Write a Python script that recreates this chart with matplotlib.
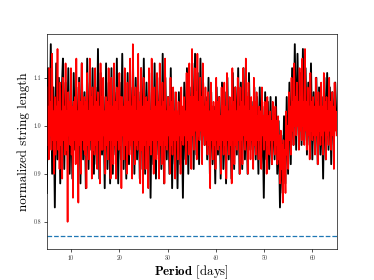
import numpy as np
import matplotlib
matplotlib.use("Agg")
import matplotlib.pyplot as plt

plt.rcParams['font.family'] = ['cmr10', 'DejaVu Serif']
plt.rcParams['mathtext.fontset'] = 'cm'
plt.rcParams['axes.formatter.use_mathtext'] = True

# period grid (days)
period_min, period_max = 5.0, 65.0

black_values = [
    0.86, 1.12, 0.95, 1.17, 0.90, 1.08, 0.83, 1.13, 0.93, 1.10, 0.88, 1.06,
    1.14, 0.91, 1.09, 0.94, 1.12, 0.90, 1.06, 0.89, 1.11, 0.95, 1.08, 0.92,
    1.10, 0.88, 1.13, 0.93, 1.07, 0.87, 1.14, 0.91, 1.09, 0.95, 1.12, 0.90,
    1.08, 0.92, 1.16, 0.89, 1.11, 0.94, 1.06, 0.87, 1.13, 0.91, 1.09, 0.88,
    1.12, 0.90, 1.07, 0.94, 1.14, 0.88, 1.09, 0.93, 1.15, 0.91, 1.06, 0.89,
    1.11, 0.92, 1.08, 0.95, 1.13, 0.90, 1.10, 0.93, 1.07, 0.89, 1.12, 0.91,
    1.14, 0.90, 1.09, 0.93, 1.11, 0.85, 1.07, 0.92, 1.13, 0.89, 1.10, 0.94,
    1.08, 0.91, 1.15, 0.88, 1.10, 0.93, 1.06, 0.90, 1.12, 0.87, 1.07, 0.92,
    1.05, 0.87, 1.07, 0.92, 1.04, 0.85, 1.09, 0.93, 1.12, 0.90, 1.08, 0.94,
    1.13, 0.91, 1.15, 0.94, 1.11, 0.92, 1.14, 0.97, 1.09, 0.96, 1.06, 0.93,
    1.10, 0.90, 1.07, 0.92, 1.04, 0.88, 1.08, 0.94, 1.06, 0.89, 1.09, 0.91,
    1.07, 0.88, 1.10, 0.93, 1.05, 0.89, 1.11, 0.91, 1.08, 0.94, 1.12, 0.90,
    1.09, 0.91, 1.12, 0.93, 1.07, 0.90, 1.11, 0.95, 1.05, 0.92, 1.08, 0.93,
    1.06, 0.90, 1.08, 0.92, 1.04, 0.85, 1.07, 0.93, 1.05, 0.91, 1.06, 0.92,
    1.04, 0.93, 1.06, 0.90, 1.01, 0.83, 0.98, 0.86, 1.02, 0.88, 1.06, 0.90,
    1.09, 0.92, 1.12, 0.96, 1.17, 0.95, 1.15, 0.98, 1.11, 0.96, 1.16, 0.97,
    1.12, 0.94, 1.09, 0.96, 1.13, 0.93, 1.07, 0.95, 1.10, 0.92, 1.08, 0.94,
    1.06, 0.89, 1.10, 0.93, 1.11, 0.95, 1.08, 0.92, 1.07, 0.96, 1.09, 1.00,
]

red_values = [
    1.08, 0.96, 1.04, 0.93, 1.12, 0.98, 1.05, 0.95, 1.15, 0.97, 1.03, 0.90,
    1.06, 0.94, 1.04, 0.97, 1.16, 0.95, 1.05, 0.91, 1.09, 0.96, 1.03, 0.89,
    1.10, 0.97, 1.04, 0.94, 1.13, 0.95, 1.03, 0.80, 1.07, 0.98, 1.05, 0.96,
    1.12, 0.94, 1.04, 0.85, 1.05, 0.97, 1.06, 0.92, 1.14, 0.96, 1.03, 0.84,
    1.09, 0.96, 1.05, 0.90, 1.13, 0.97, 1.04, 0.95, 1.06, 0.94, 1.05, 0.87,
    1.11, 0.96, 1.03, 0.93, 1.14, 0.97, 1.06, 0.89, 1.08, 0.95, 1.04, 0.94,
    1.12, 0.96, 1.05, 0.91, 1.07, 0.97, 1.04, 0.88, 1.13, 0.95, 1.06, 0.95,
    1.10, 0.98, 1.03, 0.90, 1.06, 0.96, 1.05, 0.93, 1.12, 0.97, 1.04, 0.89,
    1.10, 0.97, 1.04, 0.92, 1.13, 0.96, 1.05, 0.89, 1.08, 0.97, 1.03, 0.95,
    1.11, 0.96, 1.06, 0.87, 1.06, 0.98, 1.04, 0.93, 1.12, 0.96, 1.05, 0.90,
    1.09, 0.97, 1.05, 0.94, 1.14, 0.96, 1.04, 0.89, 1.17, 0.97, 1.06, 0.92,
    1.08, 0.96, 1.03, 0.95, 1.15, 0.97, 1.05, 0.88, 1.12, 0.95, 1.04, 0.86,
    1.10, 0.96, 1.04, 0.91, 1.06, 0.97, 1.05, 0.87, 1.12, 0.96, 1.03, 0.94,
    1.14, 0.97, 1.06, 0.90, 1.08, 0.95, 1.04, 0.93, 1.11, 0.97, 1.05, 0.89,
    1.13, 0.96, 1.04, 0.92, 1.09, 0.97, 1.05, 0.88, 1.14, 0.96, 1.03, 0.95,
    1.06, 0.98, 1.04, 0.90, 1.10, 0.96, 1.05, 0.94, 1.08, 0.97, 1.03, 0.89,
    1.07, 0.97, 1.03, 0.93, 1.05, 0.98, 1.02, 0.90, 1.08, 0.97, 1.04, 0.96,
    1.06, 0.98, 1.03, 0.92, 1.11, 0.97, 1.05, 0.94, 1.13, 0.96, 1.06, 0.91,
    1.16, 0.98, 1.06, 0.95, 1.12, 0.99, 1.07, 0.93, 1.15, 0.98, 1.05, 0.97,
    1.10, 0.99, 1.06, 0.92, 1.13, 0.98, 1.04, 0.96, 1.08, 0.97, 1.05, 0.94,
    1.07, 0.96, 1.03, 0.87, 1.09, 0.97, 1.04, 0.93, 1.05, 0.96, 1.03, 0.91,
    1.10, 0.97, 1.05, 0.95, 1.06, 0.96, 1.02, 0.90, 1.08, 0.97, 1.04, 0.94,
    1.09, 0.96, 1.04, 0.89, 1.11, 0.97, 1.03, 0.94, 1.06, 0.96, 1.04, 0.88,
    1.12, 0.97, 1.05, 0.92, 1.08, 0.96, 1.03, 0.95, 1.10, 0.97, 1.04, 0.90,
    1.08, 0.97, 1.05, 0.92, 1.12, 0.98, 1.04, 0.95, 1.14, 0.97, 1.06, 0.90,
    1.09, 0.96, 1.03, 0.93, 1.06, 0.97, 1.04, 0.91, 1.10, 0.96, 1.05, 0.94,
    1.07, 0.97, 1.02, 0.93, 1.04, 0.97, 1.03, 0.91, 1.08, 0.98, 1.02, 0.95,
    1.05, 0.97, 1.03, 0.90, 1.06, 0.96, 1.02, 0.94, 1.03, 0.97, 1.01, 0.92,
    1.05, 0.97, 1.02, 0.94, 1.04, 0.96, 1.01, 0.92, 1.02, 0.93, 0.98, 0.88,
    0.99, 0.91, 0.96, 0.84, 0.97, 0.90, 0.95, 0.86, 1.03, 0.94, 1.00, 0.91,
    1.07, 0.97, 1.04, 0.94, 1.10, 0.99, 1.05, 0.96, 1.13, 1.00, 1.06, 0.98,
    1.09, 1.00, 1.05, 0.95, 1.12, 0.99, 1.06, 0.97, 1.14, 1.00, 1.05, 0.96,
    1.16, 0.99, 1.05, 0.95, 1.08, 0.98, 1.04, 0.93, 1.11, 0.99, 1.05, 0.97,
    1.06, 0.98, 1.04, 0.94, 1.10, 0.98, 1.05, 0.92, 1.07, 0.99, 1.04, 0.96,
    1.09, 0.98, 1.04, 0.94, 1.11, 0.99, 1.05, 0.93, 1.06, 0.98, 1.03, 0.96,
    1.10, 0.99, 1.05, 0.95, 1.07, 0.98, 1.04, 0.91, 1.09, 0.99, 1.03, 0.98,
]

threshold = 0.77
xticks = [10, 20, 30, 40, 50, 60]
yticks = [0.8, 0.9, 1.0, 1.1]

periods_black = np.linspace(period_min, period_max, len(black_values))
periods_red = np.linspace(period_min, period_max, len(red_values))

fig = plt.figure(figsize=(3.74, 2.8), dpi=100)
ax = fig.add_axes([0.125, 0.11, 0.775, 0.77])

ax.plot(periods_black, black_values, color='black', lw=1.35)
ax.plot(periods_red, red_values, color='red', lw=1.2)
ax.axhline(threshold, color='#1f77b4', ls='--', lw=0.9)

ax.set_xlim(period_min, period_max)
ax.set_ylim(0.743, 1.192)
ax.set_xticks(xticks)
ax.set_yticks(yticks)
ax.set_xticklabels([str(t) for t in xticks])
ax.set_yticklabels([f"{t:.1f}" for t in yticks])

for s in ax.spines.values():
    s.set_linewidth(0.47)
ax.tick_params(labelsize=4.2, length=2.0, width=0.47, pad=2.0, labelcolor='#333333')

ax.set_ylabel('normalized string length', fontsize=9.4, labelpad=2.5)
ax.set_xlabel(r'$\mathbf{Period}$ [days]', fontsize=9.3, labelpad=2.3)

fig.savefig('out.png', dpi=100)
